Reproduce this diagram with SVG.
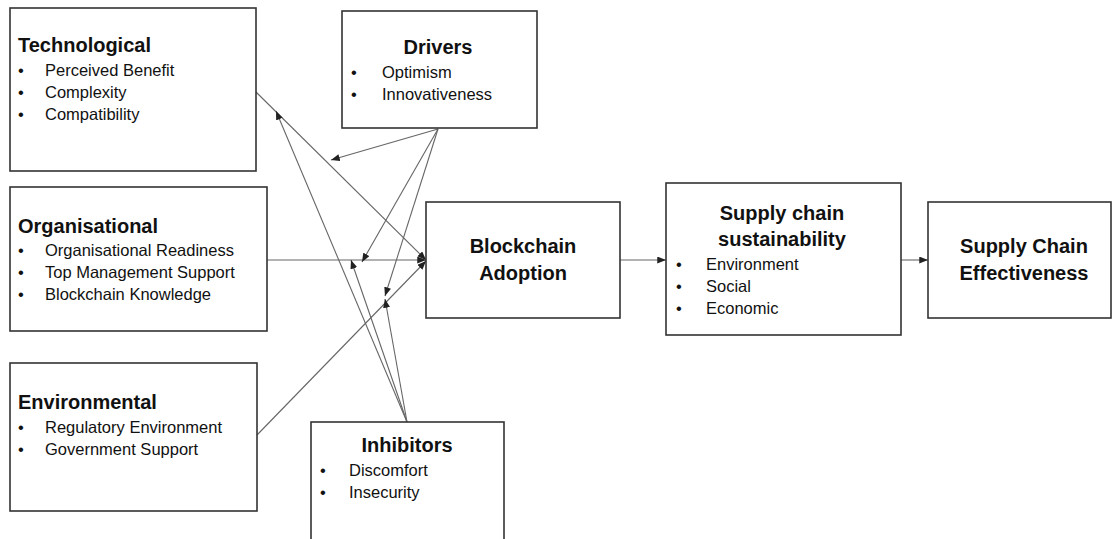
<svg xmlns="http://www.w3.org/2000/svg" width="1113" height="539" viewBox="0 0 1113 539">
<style>
.box{fill:#fff;stroke:#333;stroke-width:1.6}
.t{font-family:"Liberation Sans",Arial,sans-serif;font-weight:bold;font-size:20px;fill:#111}
.b{font-family:"Liberation Sans",Arial,sans-serif;font-size:16.5px;fill:#111}
.c{fill:none;stroke:#666;stroke-width:1.1}
</style>
<defs>
<marker id="ah" viewBox="0 0 10 8" refX="10" refY="4" markerWidth="9" markerHeight="7" markerUnits="userSpaceOnUse" orient="auto">
<path d="M0,0 L10,4 L0,8 z" fill="#222"/>
</marker>
</defs>
<rect width="1113" height="539" fill="#fff"/>
<g id="connectors">
<line class="c" x1="256" y1="92" x2="426" y2="260" marker-end="url(#ah)"/>
<line class="c" x1="267" y1="260" x2="426" y2="260" marker-end="url(#ah)"/>
<line class="c" x1="257" y1="435" x2="426" y2="261" marker-end="url(#ah)"/>
<line class="c" x1="438" y1="129" x2="331" y2="160" marker-end="url(#ah)"/>
<line class="c" x1="438" y1="129" x2="362" y2="262" marker-end="url(#ah)"/>
<line class="c" x1="438" y1="129" x2="385" y2="296" marker-end="url(#ah)"/>
<line class="c" x1="407" y1="422" x2="276" y2="111" marker-end="url(#ah)"/>
<line class="c" x1="407" y1="422" x2="351" y2="260" marker-end="url(#ah)"/>
<line class="c" x1="407" y1="422" x2="385" y2="299" marker-end="url(#ah)"/>
<line class="c" x1="620" y1="260" x2="666" y2="260" marker-end="url(#ah)"/>
<line class="c" x1="901" y1="260" x2="928" y2="260" marker-end="url(#ah)"/>
</g>
<g id="technological">
<rect class="box" x="10" y="8" width="246" height="163"/>
<text class="t" x="18" y="52">Technological</text>
<text class="b" x="18" y="76">•</text><text class="b" x="45" y="76">Perceived Benefit</text>
<text class="b" x="18" y="98">•</text><text class="b" x="45" y="98">Complexity</text>
<text class="b" x="18" y="120">•</text><text class="b" x="45" y="120">Compatibility</text>
</g>
<g id="organisational">
<rect class="box" x="10" y="187" width="257" height="144"/>
<text class="t" x="18" y="233">Organisational</text>
<text class="b" x="18" y="256">•</text><text class="b" x="45" y="256">Organisational Readiness</text>
<text class="b" x="18" y="278">•</text><text class="b" x="45" y="278">Top Management Support</text>
<text class="b" x="18" y="300">•</text><text class="b" x="45" y="300">Blockchain Knowledge</text>
</g>
<g id="environmental">
<rect class="box" x="10" y="363" width="247" height="148"/>
<text class="t" x="18" y="409">Environmental</text>
<text class="b" x="18" y="433">•</text><text class="b" x="45" y="433">Regulatory Environment</text>
<text class="b" x="18" y="455">•</text><text class="b" x="45" y="455">Government Support</text>
</g>
<g id="drivers">
<rect class="box" x="342" y="11" width="195" height="117"/>
<text class="t" x="438" y="54" text-anchor="middle">Drivers</text>
<text class="b" x="351" y="78">•</text><text class="b" x="382" y="78">Optimism</text>
<text class="b" x="351" y="100">•</text><text class="b" x="382" y="100">Innovativeness</text>
</g>
<g id="inhibitors">
<rect class="box" x="311" y="422" width="193" height="130"/>
<text class="t" x="407" y="452" text-anchor="middle">Inhibitors</text>
<text class="b" x="320" y="476">•</text><text class="b" x="349" y="476">Discomfort</text>
<text class="b" x="320" y="498">•</text><text class="b" x="349" y="498">Insecurity</text>
</g>
<g id="blockchain-adoption">
<rect class="box" x="426" y="202" width="194" height="116"/>
<text class="t" x="523" y="253" text-anchor="middle">Blockchain</text>
<text class="t" x="523" y="280" text-anchor="middle">Adoption</text>
</g>
<g id="supply-chain-sustainability">
<rect class="box" x="666" y="183" width="235" height="152"/>
<text class="t" x="782" y="220" text-anchor="middle">Supply chain</text>
<text class="t" x="782" y="246" text-anchor="middle">sustainability</text>
<text class="b" x="676" y="270">•</text><text class="b" x="706" y="270">Environment</text>
<text class="b" x="676" y="292">•</text><text class="b" x="706" y="292">Social</text>
<text class="b" x="676" y="314">•</text><text class="b" x="706" y="314">Economic</text>
</g>
<g id="supply-chain-effectiveness">
<rect class="box" x="928" y="202" width="183" height="116"/>
<text class="t" x="1024" y="253" text-anchor="middle">Supply Chain</text>
<text class="t" x="1024" y="280" text-anchor="middle">Effectiveness</text>
</g>
</svg>
